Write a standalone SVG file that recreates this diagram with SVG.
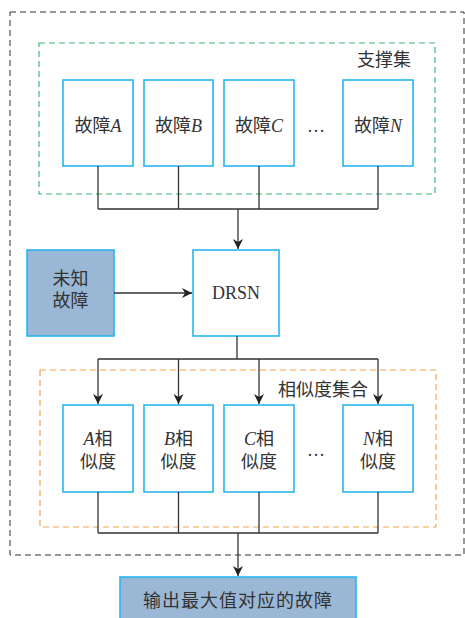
<svg xmlns="http://www.w3.org/2000/svg" width="465" height="618" viewBox="0 0 465 618">
<defs>
<marker id="arr" markerWidth="12" markerHeight="12" refX="10" refY="6" orient="auto" markerUnits="userSpaceOnUse">
<path d="M0,1 L10,6 L0,11 L3,6 Z" fill="#222"/>
</marker>
<style>
.box{fill:#fff;stroke:#29b5ef;stroke-width:1.6}
.dark{fill:#9ab7d5;stroke:#29b5ef;stroke-width:1.6}
.t{font-family:"Liberation Serif","Noto Sans CJK SC",serif;font-size:18px;fill:#333;text-anchor:middle}
.i{font-style:italic}
.ln{fill:none;stroke:#333;stroke-width:1.3}
</style>
</defs>
<rect width="465" height="618" fill="#fff"/>
<rect id="outer" x="10" y="12" width="454" height="543" fill="none" stroke="#333" stroke-width="1" stroke-dasharray="6,4"/>
<g id="support-set">
<rect x="39" y="43" width="396" height="151" fill="none" stroke="#3cb878" stroke-width="1.2" stroke-dasharray="6,4"/>
<text class="t" x="384" y="66">支撑集</text>
</g>
<g id="similarity-set">
<rect x="40" y="370" width="396" height="157" fill="none" stroke="#f5a34c" stroke-width="1.2" stroke-dasharray="6,4"/>
<text class="t" x="323" y="396">相似度集合</text>
</g>
<g id="faultA"><rect class="box" x="63" y="80" width="70" height="86"/><text class="t" x="98" y="132">故障<tspan class="i">A</tspan></text></g>
<g id="faultB"><rect class="box" x="144" y="80" width="69" height="86"/><text class="t" x="178.5" y="132">故障<tspan class="i">B</tspan></text></g>
<g id="faultC"><rect class="box" x="224" y="80" width="70" height="86"/><text class="t" x="259" y="132">故障<tspan class="i">C</tspan></text></g>
<text class="t" x="316" y="132">…</text>
<g id="faultN"><rect class="box" x="343" y="80" width="70" height="86"/><text class="t" x="378" y="132">故障<tspan class="i">N</tspan></text></g>
<g id="unknown"><rect class="dark" x="27" y="250" width="87" height="86"/><text class="t" x="70.5" y="285">未知</text><text class="t" x="70.5" y="307">故障</text></g>
<g id="drsn"><rect class="box" x="193" y="250" width="86" height="86"/><text class="t" x="236" y="299" style="font-family:'Liberation Serif',serif">DRSN</text></g>
<g id="simA"><rect class="box" x="63" y="405" width="70" height="87"/><text class="t" x="98" y="445"><tspan class="i">A</tspan>相</text><text class="t" x="98" y="468">似度</text></g>
<g id="simB"><rect class="box" x="144" y="405" width="69" height="87"/><text class="t" x="178.5" y="445"><tspan class="i">B</tspan>相</text><text class="t" x="178.5" y="468">似度</text></g>
<g id="simC"><rect class="box" x="224" y="405" width="70" height="87"/><text class="t" x="259" y="445"><tspan class="i">C</tspan>相</text><text class="t" x="259" y="468">似度</text></g>
<text class="t" x="316" y="456">…</text>
<g id="simN"><rect class="box" x="343" y="405" width="70" height="87"/><text class="t" x="378" y="445"><tspan class="i">N</tspan>相</text><text class="t" x="378" y="468">似度</text></g>
<g id="output"><rect class="dark" x="120" y="577" width="236" height="50"/><text class="t" x="238" y="607" style="letter-spacing:1px">输出最大值对应的故障</text></g>
<g id="connectors">
<path class="ln" d="M98,166 V209 M178.5,166 V209 M259,166 V209 M378,166 V209 M98,209 H378"/>
<path class="ln" d="M238,209 V249" marker-end="url(#arr)"/>
<path class="ln" d="M114,293 H192" marker-end="url(#arr)"/>
<path class="ln" d="M237,336 V359 M98,359 H378"/>
<path class="ln" d="M98,359 V404" marker-end="url(#arr)"/>
<path class="ln" d="M178.5,359 V404" marker-end="url(#arr)"/>
<path class="ln" d="M259,359 V404" marker-end="url(#arr)"/>
<path class="ln" d="M378,359 V404" marker-end="url(#arr)"/>
<path class="ln" d="M98,492 V533 M178.5,492 V533 M259,492 V533 M378,492 V533 M98,533 H378"/>
<path class="ln" d="M238,533 V576" marker-end="url(#arr)"/>
</g>
</svg>
